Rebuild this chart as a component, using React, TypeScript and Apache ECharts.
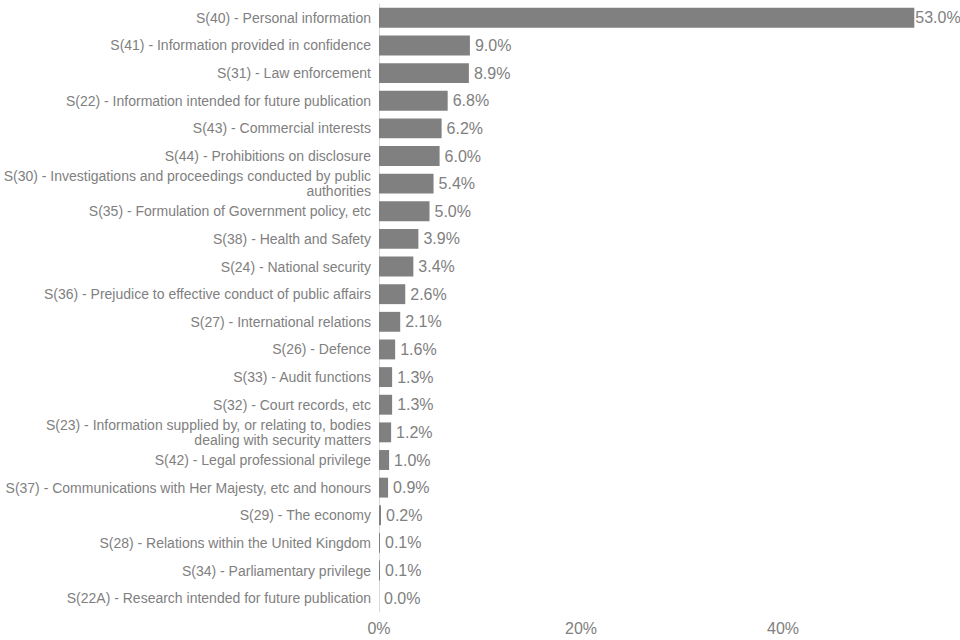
import React, { useEffect, useRef } from "react";
import * as echarts from "echarts";

const categories = [
  "S(40) - Personal information",
  "S(41) - Information provided in confidence",
  "S(31) - Law enforcement",
  "S(22) - Information intended for future publication",
  "S(43) - Commercial interests",
  "S(44) - Prohibitions on disclosure",
  "S(30) - Investigations and proceedings conducted by public\nauthorities",
  "S(35) - Formulation of Government policy, etc",
  "S(38) - Health and Safety",
  "S(24) - National security",
  "S(36) - Prejudice to effective conduct of public affairs",
  "S(27) - International relations",
  "S(26) - Defence",
  "S(33) - Audit functions",
  "S(32) - Court records, etc",
  "S(23) - Information supplied by, or relating to, bodies\ndealing with security matters",
  "S(42) - Legal professional privilege",
  "S(37) - Communications with Her Majesty, etc and honours",
  "S(29) - The economy",
  "S(28) - Relations within the United Kingdom",
  "S(34) - Parliamentary privilege",
  "S(22A) - Research intended for future publication",
];

const values = [
  53.0, 9.0, 8.9, 6.8, 6.2, 6.0, 5.4, 5.0, 3.9, 3.4, 2.6, 2.1, 1.6, 1.3, 1.3, 1.2,
  1.0, 0.9, 0.2, 0.1, 0.1, 0.0,
];

const xTicks = { min: 0, max: 60, interval: 20 };
const shownTicks = [0, 20, 40];

export default function App() {
  const ref = useRef<HTMLDivElement>(null);
  useEffect(() => {
    document.body.style.margin = "0";
    const chart = echarts.init(ref.current!, undefined, { renderer: "svg" });
    const font = "Liberation Sans, Arial, sans-serif";
    const maxVal = Math.max(...values);
    chart.setOption({
      animation: false,
      grid: {
        left: 379,
        top: 4,
        width: 606,
        height: 608,
        containLabel: false,
        outerBoundsMode: "none",
      },
      xAxis: {
        type: "value",
        min: xTicks.min,
        max: xTicks.max,
        interval: xTicks.interval,
        axisLine: { show: false },
        axisTick: { show: false },
        splitLine: { show: false },
        axisLabel: {
          color: "#808080",
          fontSize: 16,
          fontFamily: font,
          margin: 8,
          formatter: (v: number) => (shownTicks.includes(v) ? `${v}%` : ""),
        },
      },
      yAxis: {
        type: "category",
        data: categories,
        inverse: true,
        axisLine: { show: true, lineStyle: { color: "#d9d9d9", width: 1 } },
        axisTick: { show: false },
        axisLabel: {
          color: "#808080",
          fontSize: 14,
          fontFamily: font,
          margin: 8,
          lineHeight: 15,
          align: "right",
        },
      },
      series: [
        {
          type: "bar",
          data: values.map((v) =>
            v === maxVal ? { value: v, label: { distance: 1 } } : v
          ),
          barCategoryGap: "28%",
          itemStyle: { color: "#808080" },
          label: {
            show: true,
            position: "right",
            distance: 5,
            color: "#808080",
            fontSize: 16,
            fontFamily: font,
            formatter: (p: any) => `${Number(p.value).toFixed(1)}%`,
          },
        },
      ],
    });
    return () => chart.dispose();
  }, []);
  return (
    <div
      ref={ref}
      style={{ position: "absolute", left: 0, top: 0, width: 960, height: 640 }}
    />
  );
}
